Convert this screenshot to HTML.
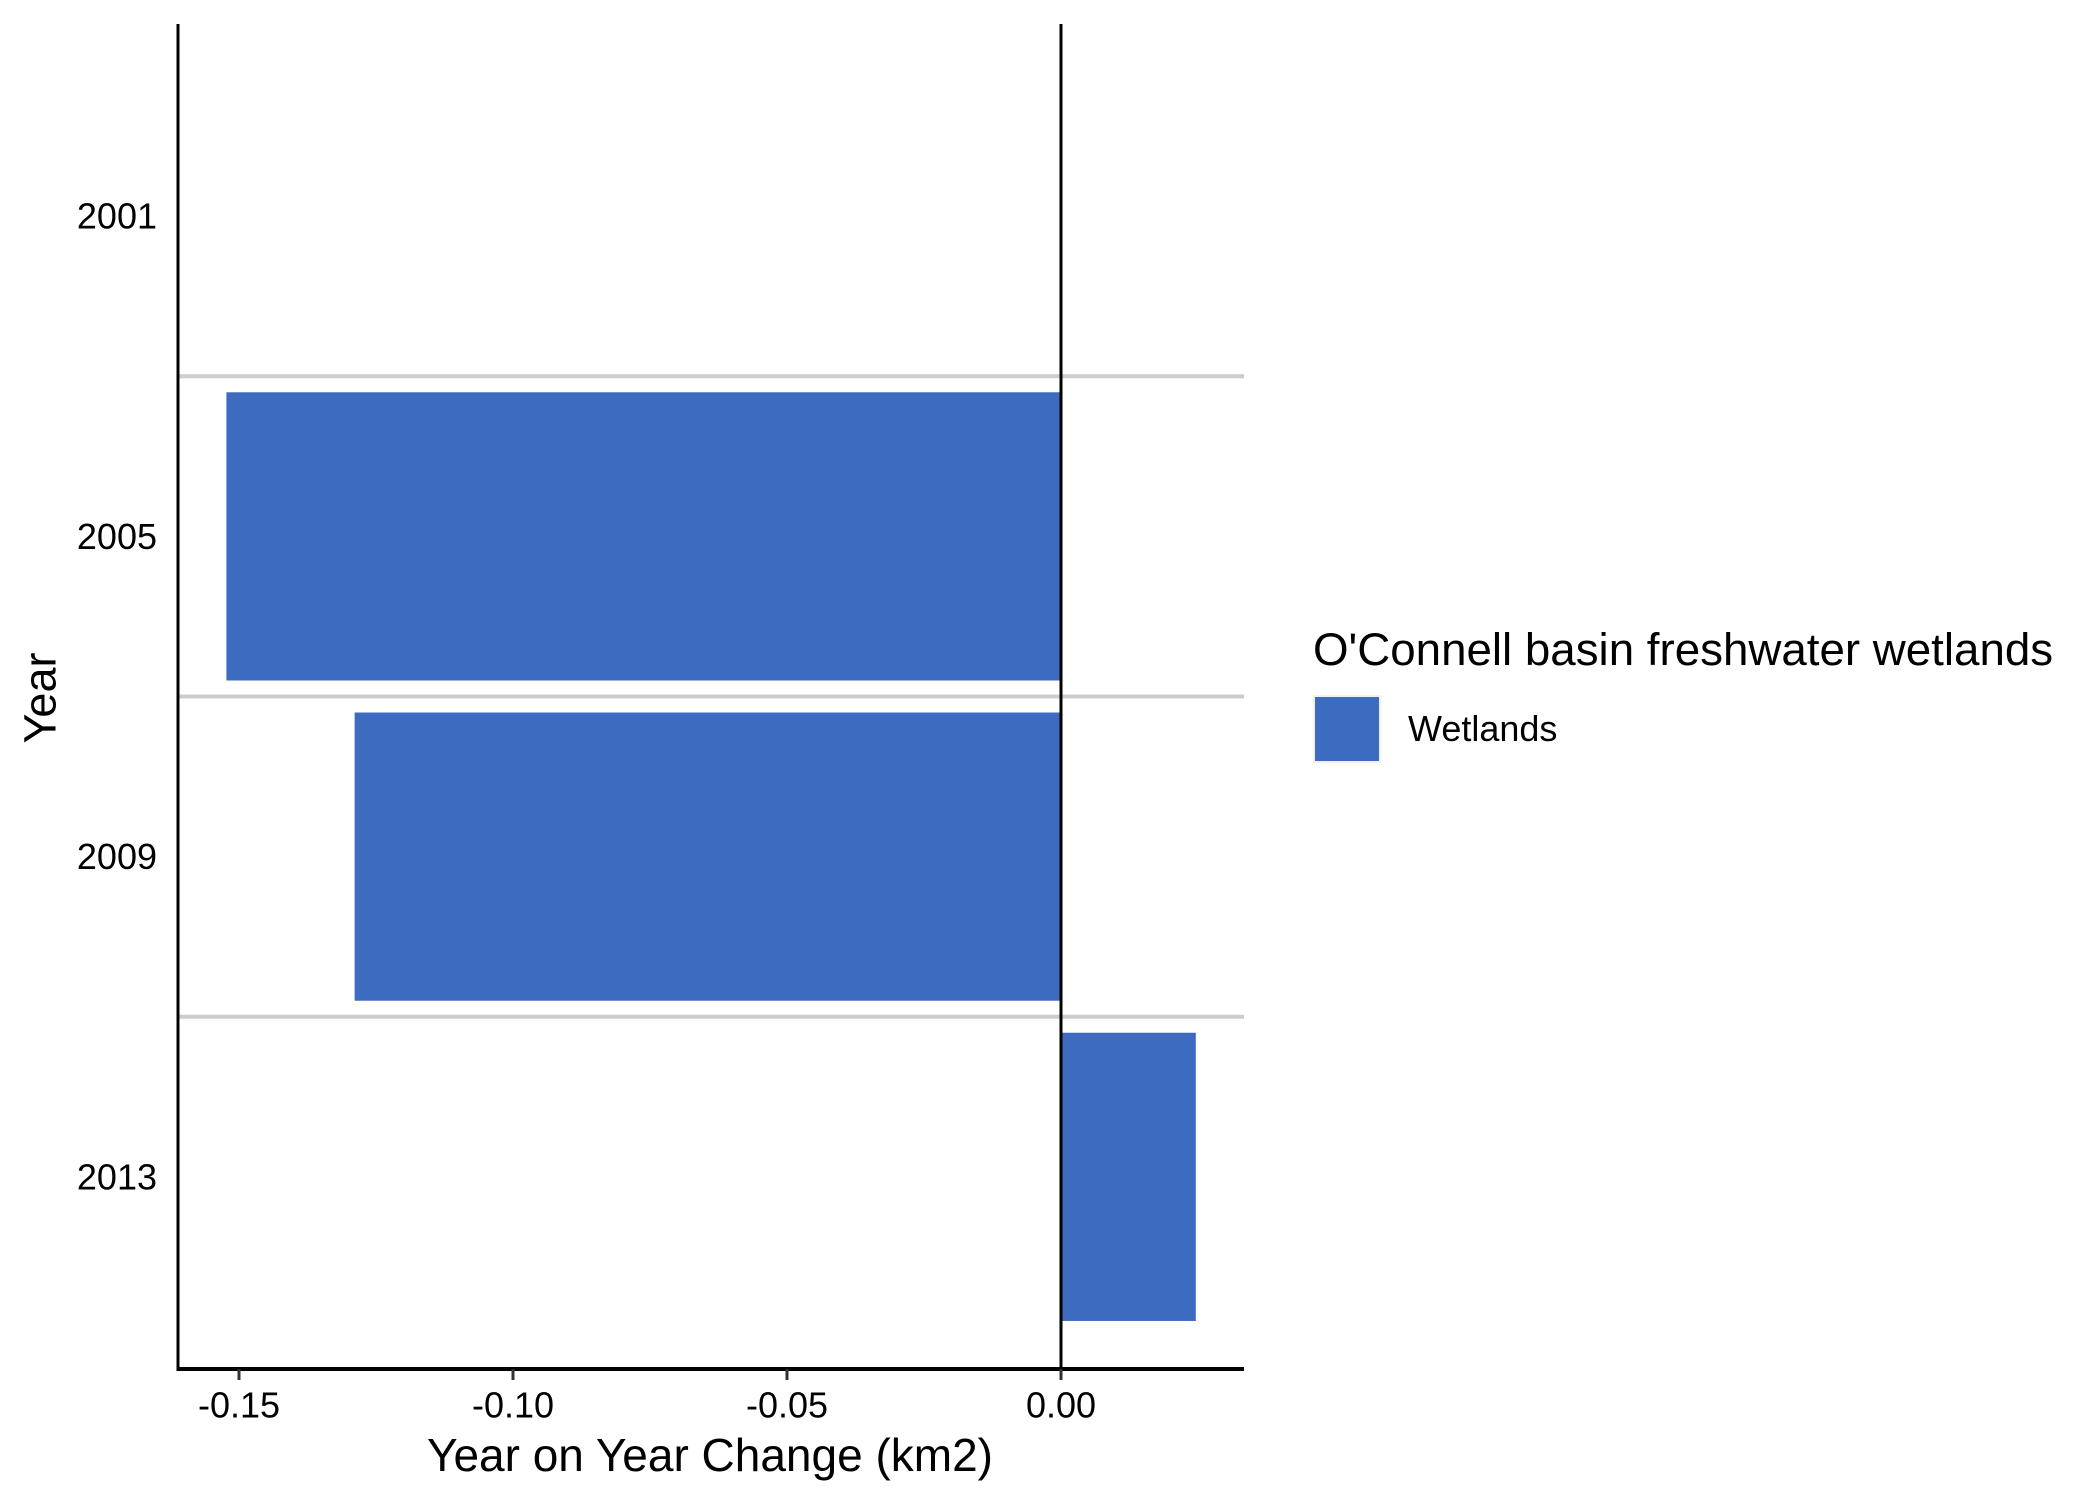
<!DOCTYPE html>
<html><head><meta charset="utf-8"><style>
html,body{margin:0;padding:0;background:#fff;}
svg{display:block;font-family:"Liberation Sans",Arial,sans-serif;}
</style></head><body>
<svg id="chart" width="2100" height="1499" viewBox="0 0 2100 1499">
<g id="grid"></g><g id="bars"></g><g id="axes"></g>
<text x="40" y="698" transform="rotate(-90 40 698)" text-anchor="middle" dominant-baseline="central" font-size="45">Year</text>
<text x="710" y="1455" text-anchor="middle" dominant-baseline="central" font-size="46">Year on Year Change (km2)</text>
<g>
<text x="1313" y="665" font-size="45.7">O'Connell basin freshwater wetlands</text>
<rect x="1314" y="696" width="66" height="66" fill="#3d6bbf" stroke="#f0f0f0" stroke-width="2"/>
<text x="1408" y="741" font-size="36">Wetlands</text>
</g>
</svg>
<script>
const categories = ["2001","2005","2009","2013"];
const values = [0, -0.1523, -0.1289, 0.0246];
const xTicks = [-0.15, -0.10, -0.05, 0.00];
const xTickLabels = ["-0.15","-0.10","-0.05","0.00"];

const NS="http://www.w3.org/2000/svg";
const pLeft=178, pRight=1244, pTop=24, pBottom=1369;
const x0=1061, pxPerUnit=274/0.05;
function xs(v){return x0+v*pxPerUnit;}
const band=(pBottom-pTop)/(categories.length-1+1.2);
function yc(i){return pTop+0.6*band+i*band;}
function mk(tag,attrs,parent){const e=document.createElementNS(NS,tag);for(const k in attrs)e.setAttribute(k,attrs[k]);parent.appendChild(e);return e;}
const grid=document.getElementById('grid'),bars=document.getElementById('bars'),axes=document.getElementById('axes');
for(let i=0;i<categories.length-1;i++){
  const y=(yc(i)+yc(i+1))/2;
  const l=mk('line',{x1:pLeft,x2:pRight,y1:y,y2:y,stroke:'#cccccc','stroke-width':4},grid);
  
  
}
const bh=band*0.9;
categories.forEach((c,i)=>{
  const v=values[i];
  if(v!==0){
    const a=xs(Math.min(0,v)),b=xs(Math.max(0,v));
    const r=mk('rect',{x:a,y:yc(i)-bh/2,width:b-a,height:bh,fill:'#3d6bbf'},bars);
    
    
  }
  const t=mk('text',{x:157,y:yc(i),'text-anchor':'end','dominant-baseline':'central','font-size':36},axes);
  t.textContent=c;
  
  
});
const zl=mk('line',{x1:xs(0),x2:xs(0),y1:pTop,y2:pBottom,stroke:'#000','stroke-width':3},axes);


const ya=mk('line',{x1:pLeft,x2:pLeft,y1:pTop,y2:pBottom+2,stroke:'#000','stroke-width':3},axes);


const xa=mk('line',{x1:pLeft-1,x2:pRight,y1:pBottom,y2:pBottom,stroke:'#000','stroke-width':4},axes);


xTicks.forEach((v,i)=>{
  const tk=mk('line',{x1:xs(v),x2:xs(v),y1:pBottom,y2:pBottom+11,stroke:'#333','stroke-width':3},axes);
  
  
  const t=mk('text',{x:xs(v),y:1405,'text-anchor':'middle','dominant-baseline':'central','font-size':36},axes);
  t.textContent=xTickLabels[i];
  
  
});
</script>
</body></html>
